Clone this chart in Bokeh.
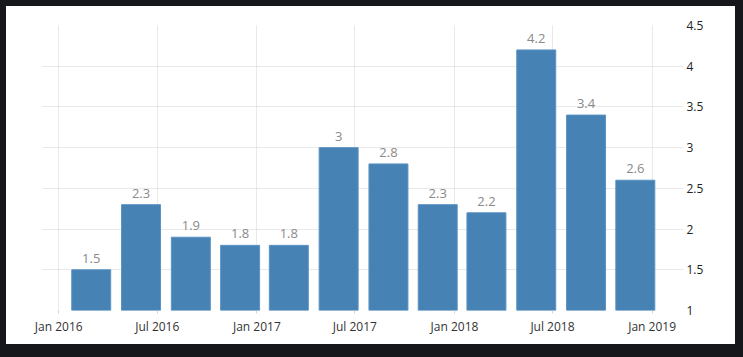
import pandas as pd
from bokeh.plotting import figure
from bokeh.models import ColumnDataSource, Range1d, FixedTicker
from bokeh.core.properties import value
from bokeh.embed import file_html
from bokeh.resources import INLINE

# ---- data ----
bar_dates = ["2016-03-01", "2016-06-01", "2016-09-01", "2016-12-01",
             "2017-03-01", "2017-06-01", "2017-09-01", "2017-12-01",
             "2018-03-01", "2018-06-01", "2018-09-01", "2018-12-01"]
bar_values = [1.5, 2.3, 1.9, 1.8, 1.8, 3.0, 2.8, 2.3, 2.2, 4.2, 3.4, 2.6]
x_tick_dates = ["2016-01-01", "2016-07-01", "2017-01-01", "2017-07-01",
                "2018-01-01", "2018-07-01", "2019-01-01"]
x_tick_labels = ["Jan 2016", "Jul 2016", "Jan 2017", "Jul 2017",
                 "Jan 2018", "Jul 2018", "Jan 2019"]
y_ticks = [1, 1.5, 2, 2.5, 3, 3.5, 4, 4.5]
y_tick_labels = ["1", "1.5", "2", "2.5", "3", "3.5", "4", "4.5"]


def ms(d):
    return pd.Timestamp(d).value / 1e6


xs = [ms(d) for d in bar_dates]
labels = [("%g" % v) for v in bar_values]
src = ColumnDataSource(dict(x=xs, top=bar_values, label=labels))

FONT = "Open Sans"

p = figure(width=729, height=338, output_backend="svg", toolbar_location=None,
           x_axis_type="datetime", y_axis_location="right",
           x_range=Range1d(ms("2015-12-02"), ms("2019-02-28")),
           y_range=Range1d(1, 4.5),
           min_border_left=36, min_border_right=52,
           min_border_top=19, min_border_bottom=34,
           background_fill_color="white", border_fill_color="white",
           outline_line_color=None)

xt = FixedTicker(ticks=[ms(d) for d in x_tick_dates])
yt = FixedTicker(ticks=y_ticks)
p.xgrid.ticker = xt
p.ygrid.ticker = yt
for g in p.grid:
    g.grid_line_color = "#d2d2d2"
    g.grid_line_dash = "1 1"
    g.grid_line_width = 1

day = 86400000
p.vbar(x="x", top="top", bottom=1, width=72 * day, source=src,
       fill_color="#4682b4", line_color="#5b93c3", line_width=1)

p.text(x="x", y="top", text="label", source=src, y_offset=-7,
       text_align="center", text_baseline="bottom",
       text_font=value(FONT), text_font_size="13px", text_color="#8a8a8a")

# x axis
xa = p.xaxis[0]
xa.ticker = xt
xa.major_label_overrides = {ms(d): l for d, l in zip(x_tick_dates, x_tick_labels)}
xa.axis_line_color = None
xa.major_tick_line_color = "#d2d2d2"
xa.major_tick_out = 3
xa.major_tick_in = 0
xa.minor_tick_line_color = None
xa.major_label_standoff = 4
xa.major_label_text_font = FONT
xa.major_label_text_font_size = "12px"
xa.major_label_text_color = "#333333"

# y axis
ya = p.yaxis[0]
ya.ticker = yt
ya.major_label_overrides = {t: l for t, l in zip(y_ticks, y_tick_labels)}
ya.axis_line_color = None
ya.major_tick_line_color = None
ya.major_tick_out = 0
ya.major_tick_in = 0
ya.minor_tick_line_color = None
ya.major_label_standoff = 3
ya.major_label_text_font = FONT
ya.major_label_text_font_size = "12px"
ya.major_label_text_color = "#222222"

html = file_html(p, INLINE)
css = ("<style>"
       "html{background:#15171a linear-gradient(#ffffff,#ffffff) 6px 6px / 729px 338px no-repeat !important;"
       "margin:0 !important;}"
       "body{background:transparent !important;margin:0 !important;padding:6px 0 0 6px !important;}"
       "</style>")
html = html.replace("</head>", css + "</head>", 1)
open("out.html", "w").write(html)
